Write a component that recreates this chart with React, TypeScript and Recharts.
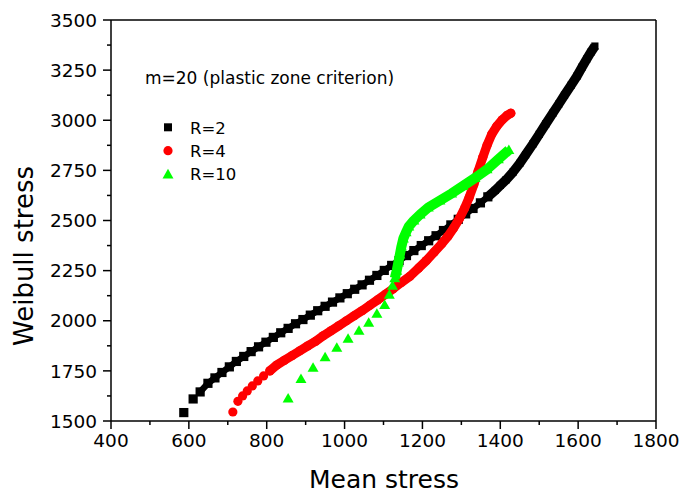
import React from 'react';
import { ComposedChart, Scatter, XAxis, YAxis, ReferenceLine } from 'recharts';

// R=2 (black squares)
const r2Mean = [587, 611, 629, 649, 667, 685, 704, 722, 741, 760, 779, 798, 817, 836, 855, 874, 893, 912, 931, 950, 969, 988, 1007, 1026, 1045, 1064, 1083, 1102, 1121, 1140, 1159, 1178, 1197, 1216, 1235, 1254, 1273, 1292, 1311, 1330, 1349, 1368, 1387, 1400, 1415, 1433, 1450, 1465, 1484, 1500, 1517, 1535, 1550, 1565, 1582, 1597, 1610, 1622, 1633, 1643];
const r2Weibull = [1542, 1610, 1645, 1688, 1715, 1742, 1770, 1797, 1822, 1846, 1870, 1893, 1917, 1940, 1962, 1985, 2006, 2028, 2050, 2072, 2093, 2114, 2135, 2157, 2179, 2202, 2226, 2251, 2276, 2300, 2325, 2350, 2375, 2399, 2424, 2450, 2478, 2506, 2533, 2560, 2588, 2618, 2650, 2675, 2703, 2742, 2785, 2828, 2882, 2930, 2982, 3035, 3080, 3125, 3175, 3220, 3265, 3305, 3340, 3370];
const r2ChainStart = 2;
const r2DenseStart = 41;

// R=4 (red circles)
const r4Mean = [713, 726, 738, 750, 763, 777, 792, 808, 825, 845, 865, 885, 905, 925, 945, 965, 985, 1005, 1025, 1045, 1065, 1085, 1105, 1125, 1145, 1168, 1190, 1210, 1230, 1250, 1265, 1280, 1295, 1308, 1320, 1332, 1343, 1355, 1366, 1378, 1391, 1405, 1418, 1427];
const r4Weibull = [1545, 1598, 1625, 1650, 1675, 1700, 1725, 1750, 1778, 1802, 1826, 1850, 1874, 1897, 1925, 1950, 1975, 2000, 2025, 2050, 2077, 2104, 2132, 2160, 2190, 2222, 2262, 2300, 2342, 2385, 2420, 2462, 2510, 2560, 2615, 2680, 2745, 2815, 2875, 2930, 2970, 3002, 3025, 3035];
const r4DenseStart = 7;

// R=10 (green triangles)
const r10Mean = [855, 888, 919, 950, 980, 1009, 1037, 1062, 1083, 1103, 1115, 1123, 1129, 1134, 1138, 1142, 1146, 1151, 1158, 1165, 1178, 1194, 1215, 1245, 1275, 1304, 1335, 1366, 1395, 1422];
const r10Weibull = [1612, 1710, 1765, 1818, 1865, 1910, 1950, 1990, 2035, 2078, 2130, 2175, 2212, 2250, 2290, 2330, 2370, 2410, 2442, 2470, 2500, 2530, 2565, 2600, 2635, 2672, 2712, 2755, 2805, 2852];
const r10DenseStart = 12;

const xMajorTicks = [400, 600, 800, 1000, 1200, 1400, 1600, 1800];
const xMinorTicks = [500, 700, 900, 1100, 1300, 1500, 1700];
const yMajorTicks = [1500, 1750, 2000, 2250, 2500, 2750, 3000, 3250, 3500];
const yMinorTicks = [1625, 1875, 2125, 2375, 2625, 2875, 3125, 3375];

const seriesNames = ['R=2', 'R=4', 'R=10'];
const titleText = 'm=20 (plastic zone criterion)';
const xTitle = 'Mean stress';
const yTitle = 'Weibull stress';

const FONT = '"DejaVu Sans", Arial, sans-serif';
const BLACK = '#000000';
const RED = '#ff0000';
const GREEN = '#00ff00';

const toPoints = (xs: number[], ys: number[]) => xs.map((x, i) => ({ x, y: ys[i] }));

const r2All = toPoints(r2Mean, r2Weibull);
const r4All = toPoints(r4Mean, r4Weibull);
const r10All = toPoints(r10Mean, r10Weibull);

const squareShape = (p: any) => (
  <rect x={p.cx - 4.6} y={p.cy - 4.6} width={9.2} height={9.2} fill={BLACK} />
);
const smallSquareShape = (p: any) => (
  <rect x={p.cx - 3.6} y={p.cy - 3.6} width={7.2} height={7.2} fill={BLACK} />
);
const circleShape = (p: any) => <circle cx={p.cx} cy={p.cy} r={4.6} fill={RED} />;
const triShape = (p: any) => (
  <polygon
    points={`${p.cx},${p.cy - 5.5} ${p.cx - 5.5},${p.cy + 4} ${p.cx + 5.5},${p.cy + 4}`}
    fill={GREEN}
  />
);

const XTick = (props: any) => {
  const { x, y, payload } = props;
  const major = xMajorTicks.includes(payload.value);
  return (
    <g>
      <line x1={x} x2={x} y1={y} y2={y + (major ? 8 : 4)} stroke={BLACK} strokeWidth={1.5} />
      {major && (
        <text x={x} y={y + 26} textAnchor="middle" fontFamily={FONT} fontSize={18.5} fill={BLACK}>
          {payload.value}
        </text>
      )}
    </g>
  );
};

const YTick = (props: any) => {
  const { x, y, payload } = props;
  const major = yMajorTicks.includes(payload.value);
  return (
    <g>
      <line x1={x - (major ? 8 : 4)} x2={x} y1={y} y2={y} stroke={BLACK} strokeWidth={1.5} />
      {major && (
        <text x={x - 14} y={y + 6.7} textAnchor="end" fontFamily={FONT} fontSize={18.5} fill={BLACK}>
          {payload.value}
        </text>
      )}
    </g>
  );
};

export default function App() {
  const xTicks = [...xMajorTicks, ...xMinorTicks].sort((a, b) => a - b);
  const yTicks = [...yMajorTicks, ...yMinorTicks].sort((a, b) => a - b);
  return (
    <div style={{ position: 'absolute', left: 0, top: 0, width: 681, height: 494, background: '#fff' }}>
      <ComposedChart width={681} height={494} margin={{ top: 20, right: 25, bottom: 0, left: 0 }}>
        <XAxis
          type="number"
          dataKey="x"
          domain={[400, 1800]}
          ticks={xTicks}
          interval={0}
          allowDataOverflow
          height={73}
          tickSize={0}
          tickMargin={0}
          tickLine={false}
          tick={XTick}
          axisLine={{ stroke: BLACK, strokeWidth: 1.5 }}
        />
        <YAxis
          type="number"
          dataKey="y"
          domain={[1500, 3500]}
          ticks={yTicks}
          interval={0}
          allowDataOverflow
          width={111}
          tickSize={0}
          tickMargin={0}
          tickLine={false}
          tick={YTick}
          axisLine={{ stroke: BLACK, strokeWidth: 1.5 }}
        />
        <ReferenceLine y={3500} stroke={BLACK} strokeWidth={1.5} />
        <ReferenceLine x={1800} stroke={BLACK} strokeWidth={1.5} />

        <Scatter data={r2All.slice(0, r2ChainStart)} shape={squareShape} isAnimationActive={false} />
        <Scatter
          data={r2All.slice(r2ChainStart, r2DenseStart + 1)}
          shape={squareShape}
          line={{ stroke: BLACK, strokeWidth: 6.5, strokeLinejoin: 'round' }}
          lineJointType="linear"
          isAnimationActive={false}
        />
        <Scatter
          data={r2All.slice(r2DenseStart)}
          shape={smallSquareShape}
          line={{ stroke: BLACK, strokeWidth: 9.5, strokeLinejoin: 'round' }}
          lineJointType="linear"
          isAnimationActive={false}
        />
        <Scatter data={r4All.slice(0, r4DenseStart)} shape={circleShape} isAnimationActive={false} />
        <Scatter
          data={r4All.slice(r4DenseStart)}
          shape={circleShape}
          line={{ stroke: RED, strokeWidth: 9.2, strokeLinejoin: 'round', strokeLinecap: 'round' }}
          lineJointType="linear"
          isAnimationActive={false}
        />
        <Scatter data={r10All.slice(0, r10DenseStart)} shape={triShape} isAnimationActive={false} />
        <Scatter
          data={r10All.slice(r10DenseStart)}
          shape={triShape}
          line={{ stroke: GREEN, strokeWidth: 10, strokeLinejoin: 'round' }}
          lineJointType="linear"
          isAnimationActive={false}
        />

        <text x={145} y={84} fontFamily={FONT} fontSize={17} fill={BLACK}>{titleText}</text>
        <rect x={164} y={123.3} width={8} height={8} fill={BLACK} />
        <text x={190} y={133.5} fontFamily={FONT} fontSize={16.5} fill={BLACK}>{seriesNames[0]}</text>
        <circle cx={168} cy={150.7} r={4.6} fill={RED} />
        <text x={190} y={156.8} fontFamily={FONT} fontSize={16.5} fill={BLACK}>{seriesNames[1]}</text>
        <polygon points="168,168.8 162.5,178.5 173.5,178.5" fill={GREEN} />
        <text x={190} y={180.4} fontFamily={FONT} fontSize={16.5} fill={BLACK}>{seriesNames[2]}</text>

        <text x={384} y={488} textAnchor="middle" fontFamily={FONT} fontSize={25} fill={BLACK}>{xTitle}</text>
        <text
          x={33}
          y={256}
          textAnchor="middle"
          transform="rotate(-90, 33, 256)"
          fontFamily={FONT}
          fontSize={26}
          fill={BLACK}
        >
          {yTitle}
        </text>
      </ComposedChart>
    </div>
  );
}
